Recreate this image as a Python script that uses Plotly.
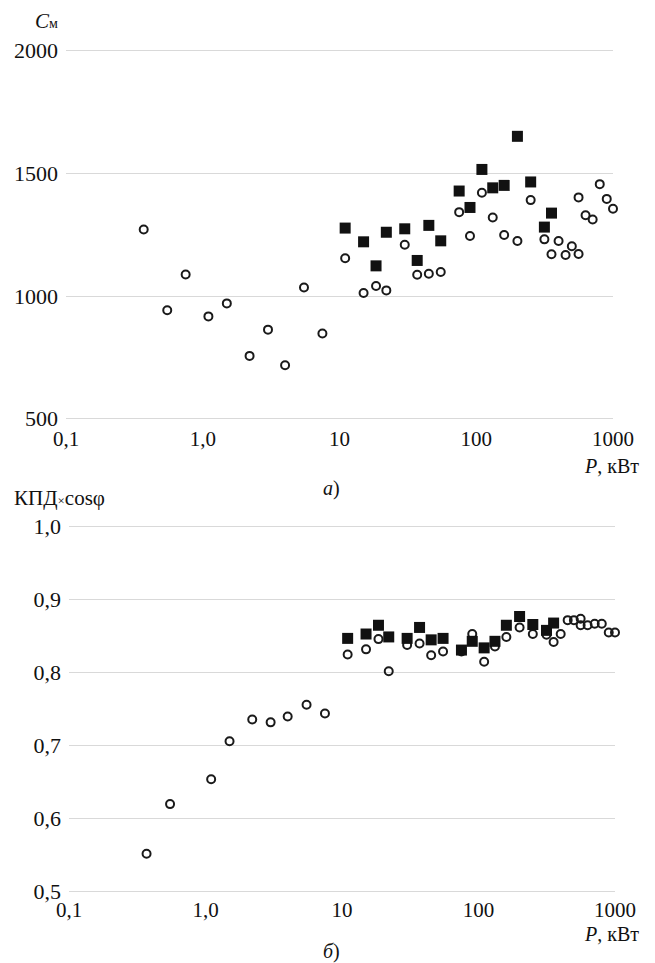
import plotly.graph_objects as go

# ---------- data ----------
# Top chart (a): C_м vs P, kW
top_circle_p = [0.37, 0.55, 0.75, 1.1, 1.5, 2.2, 3, 4, 5.5, 7.5, 11, 15, 18.5, 22, 30, 37, 45, 55,
                75, 90, 110, 132, 160, 200, 250, 315, 355, 400, 450, 500, 560, 560, 630, 710, 800, 900, 1000]
top_circle_c = [1271, 942, 1088, 917, 970, 756, 863, 718, 1035, 847, 1154, 1012, 1041, 1023, 1209, 1087, 1091, 1098,
                1342, 1245, 1421, 1320, 1249, 1224, 1391, 1231, 1170, 1224, 1167, 1203, 1171, 1402, 1329, 1312, 1456, 1396, 1356]
top_square_p = [11, 15, 18.5, 22, 30, 37, 45, 55, 75, 90, 110, 132, 160, 200, 250, 315, 355]
top_square_c = [1277, 1221, 1123, 1260, 1274, 1145, 1288, 1225, 1428, 1361, 1516, 1441, 1451, 1651, 1465, 1281, 1338]

# Bottom chart (б): КПД×cosφ vs P, kW
bot_circle_p = [0.37, 0.55, 1.1, 1.5, 2.2, 3, 4, 5.5, 7.5, 11, 15, 18.5, 22, 30, 37, 45, 55, 75, 90, 110, 132,
                160, 200, 250, 315, 355, 400, 450, 500, 560, 560, 630, 710, 800, 900, 1000]
bot_circle_v = [0.552, 0.620, 0.654, 0.706, 0.736, 0.732, 0.740, 0.756, 0.744, 0.825, 0.832, 0.846, 0.802, 0.838,
                0.840, 0.824, 0.829, 0.829, 0.853, 0.815, 0.836, 0.849, 0.862, 0.853, 0.852, 0.842, 0.853, 0.872,
                0.872, 0.874, 0.865, 0.865, 0.867, 0.867, 0.855, 0.855]
bot_square_p = [11, 15, 18.5, 22, 30, 37, 45, 55, 75, 90, 110, 132, 160, 200, 250, 315, 355]
bot_square_v = [0.847, 0.853, 0.865, 0.849, 0.847, 0.862, 0.845, 0.847, 0.831, 0.843, 0.834, 0.843, 0.865,
                0.877, 0.866, 0.858, 0.868]

x_tickvals = [0.1, 1, 10, 100, 1000]
x_ticktext = ["0,1", "1,0", "10", "100", "1000"]
top_tickvals = [500, 1000, 1500, 2000]
top_ticktext = ["500", "1000", "1500", "2000"]
bot_tickvals = [0.5, 0.6, 0.7, 0.8, 0.9, 1.0]
bot_ticktext = ["0,5", "0,6", "0,7", "0,8", "0,9", "1,0"]

# ---------- figure ----------
W, H = 655, 963
FONT = "Liberation Serif"
TXT = "#111111"
GRID = "#d9d9d9"

circle_marker = dict(symbol="circle-open", size=8, color="#1a1a1a", line=dict(width=2, color="#1a1a1a"))
square_marker = dict(symbol="square", size=11, color="#111111", line=dict(width=0))

fig = go.Figure()
fig.add_trace(go.Scatter(x=top_square_p, y=top_square_c, mode="markers", marker=square_marker,
                         xaxis="x", yaxis="y", cliponaxis=False, showlegend=False))
fig.add_trace(go.Scatter(x=top_circle_p, y=top_circle_c, mode="markers", marker=circle_marker,
                         xaxis="x", yaxis="y", cliponaxis=False, showlegend=False))
fig.add_trace(go.Scatter(x=bot_circle_p, y=bot_circle_v, mode="markers", marker=circle_marker,
                         xaxis="x2", yaxis="y2", cliponaxis=False, showlegend=False))
fig.add_trace(go.Scatter(x=bot_square_p, y=bot_square_v, mode="markers", marker=square_marker,
                         xaxis="x2", yaxis="y2", cliponaxis=False, showlegend=False))


def py(ypx):
    return (H - ypx) / H


def px(xpx):
    return xpx / W


xaxis_common = dict(type="log", range=[-1, 3], tickvals=x_tickvals, ticktext=x_ticktext,
                    showgrid=False, zeroline=False, showline=False, ticks="", automargin=False,
                    tickfont=dict(family=FONT, size=21, color=TXT))
yaxis_common = dict(showgrid=True, gridcolor=GRID, gridwidth=1.3, zeroline=False, showline=False, ticks="",
                    automargin=False, tickfont=dict(family=FONT, size=22, color=TXT), ticklabelstandoff=7)

# small padding so that the end grid lines (500/2000, 0,5/1,0) are drawn
pad_top = 6            # units of C_м
pad_top_px = pad_top * 122.7 / 500
pad_bot = 0.004        # units of КПД×cosφ
pad_bot_px = pad_bot * 730

fig.update_layout(
    width=W, height=H,
    margin=dict(l=0, r=0, t=0, b=0),
    paper_bgcolor="white", plot_bgcolor="white",
    xaxis=dict(domain=[px(66), px(613)], anchor="y", ticklabelstandoff=4, **xaxis_common),
    yaxis=dict(domain=[py(418.7 + pad_top_px), py(50.7 - pad_top_px)], anchor="x",
               range=[500 - pad_top, 2000 + pad_top],
               tickvals=top_tickvals, ticktext=top_ticktext, **yaxis_common),
    xaxis2=dict(domain=[px(69), px(615)], anchor="y2", ticklabelstandoff=0, **xaxis_common),
    yaxis2=dict(domain=[py(891.7 + pad_bot_px), py(526.7 - pad_bot_px)], anchor="x2",
                range=[0.5 - pad_bot, 1.0 + pad_bot],
                tickvals=bot_tickvals, ticktext=bot_ticktext, **yaxis_common),
)

ann_font = dict(family=FONT, size=20, color=TXT)
annotations = [
    dict(text="<i>C</i><span style='font-size:14px'>м</span>", x=px(60), y=py(21), xanchor="right", yanchor="middle",
         font=dict(family=FONT, size=21, color=TXT)),
    dict(text="<i>P</i>, кВт", x=px(641), y=py(466), xanchor="right", yanchor="middle"),
    dict(text="<i>а</i>)", x=px(331), y=py(488), xanchor="center", yanchor="middle"),
    dict(text="КПД<span style='font-size:13px'>×</span>cosφ", x=px(12), y=py(498), xanchor="left", yanchor="middle",
         font=dict(family=FONT, size=21, color=TXT)),
    dict(text="<i>P</i>, кВт", x=px(641), y=py(934), xanchor="right", yanchor="middle"),
    dict(text="<i>б</i>)", x=px(331), y=py(951), xanchor="center", yanchor="middle"),
]
for a in annotations:
    a.update(xref="paper", yref="paper", showarrow=False)
    a.setdefault("font", ann_font)
fig.update_layout(annotations=annotations)

fig.write_html("out.html")
